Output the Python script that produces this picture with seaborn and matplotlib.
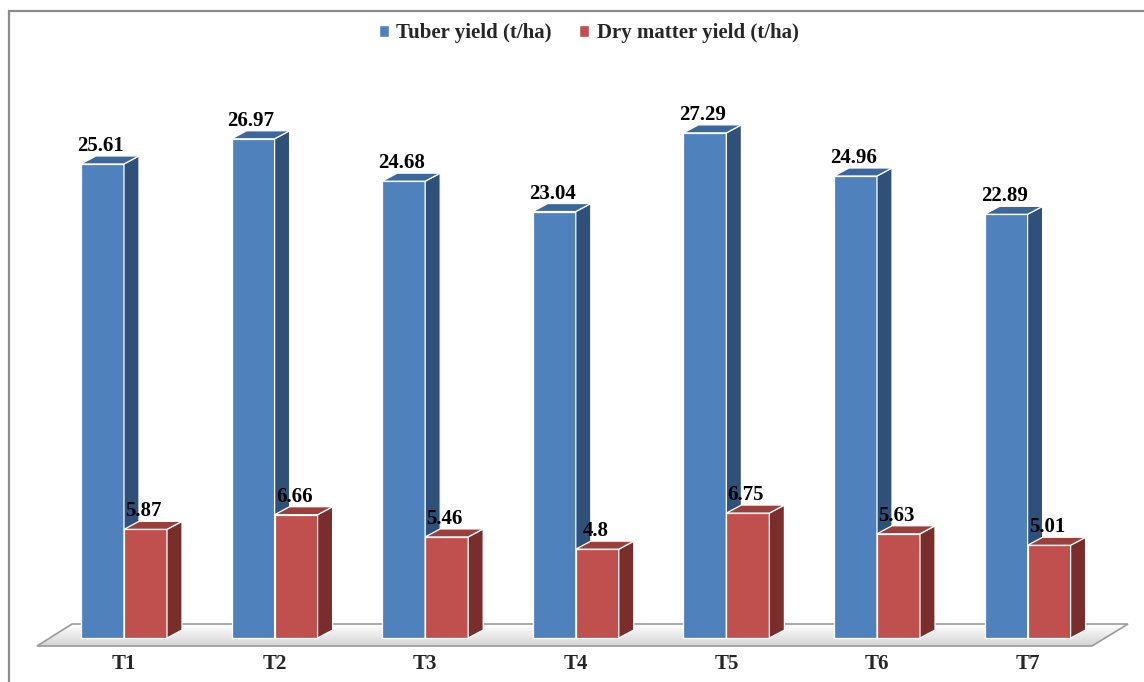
import numpy as np
import pandas as pd
import matplotlib
matplotlib.use("Agg")
import matplotlib.pyplot as plt
from matplotlib.patches import Polygon, Rectangle
import seaborn as sns

# ---- data ----
treatments = ["T1", "T2", "T3", "T4", "T5", "T6", "T7"]
tuber_yield = [25.61, 26.97, 24.68, 23.04, 27.29, 24.96, 22.89]
dry_matter_yield = [5.87, 6.66, 5.46, 4.8, 6.75, 5.63, 5.01]
series_names = ["Tuber yield (t/ha)", "Dry matter yield (t/ha)"]

df = pd.DataFrame({
    "Treatment": treatments * 2,
    "Yield": tuber_yield + dry_matter_yield,
    "Series": [series_names[0]] * len(treatments) + [series_names[1]] * len(treatments),
})

# ---- style ----
sns.set_theme(style="white")
plt.rcParams["font.family"] = ["Liberation Serif", "DejaVu Serif"]
plt.rcParams["font.weight"] = "bold"

FRONT = {"blue": "#4F81BD", "red": "#C0504D"}
SIDE = {"blue": "#2F5078", "red": "#7A2E2C"}
TOP = {"blue": "#3C679B", "red": "#9A3F3C"}
FS = 15

W, H = 1144, 682
fig = plt.figure(figsize=(W / 100, H / 100), dpi=100)

# axes placement in pixels
ax_l, ax_r, ax_t, ax_b = 30, 1135, 60, 648
ax = fig.add_axes([ax_l / W, 1 - ax_b / H, (ax_r - ax_l) / W, (ax_b - ax_t) / H])

px_per_x = 150.6
px_per_y = 18.51
x0_px = 124       # pixel of first category centre
y0_px = 638       # pixel of zero baseline
xlim = (-(x0_px - ax_l) / px_per_x, (ax_r - x0_px) / px_per_x)
ylim = (-(ax_b - y0_px) / px_per_y, (y0_px - ax_t) / px_per_y)


def to_data(px, py):
    return xlim[0] + (px - ax_l) / px_per_x, (y0_px - py) / px_per_y


sns.barplot(
    data=df, x="Treatment", y="Yield", hue="Series",
    palette=[FRONT["blue"], FRONT["red"]], width=0.571, saturation=1,
    edgecolor="white", linewidth=0.9, ax=ax, legend=False, errorbar=None,
)
bars = [b for b in ax.patches if isinstance(b, Rectangle)]

# depth offsets of the extruded bars
ddx = 15 / px_per_x
ddy = 8 / px_per_y

# floor slab
floor_px = [(37, 646), (1092, 646), (1128, 624), (72, 624)]
floor_pts = [to_data(*p) for p in floor_px]
fx = [p[0] for p in floor_pts]
fy = [p[1] for p in floor_pts]
grad = np.linspace(0, 1, 64).reshape(-1, 1)
img = ax.imshow(grad, cmap=matplotlib.colors.LinearSegmentedColormap.from_list(
    "floor", ["#ffffff", "#d4d4d4"]), extent=(min(fx), max(fx), min(fy), max(fy)),
    origin="upper", aspect="auto", zorder=1, interpolation="bilinear")
img.set_clip_path(Polygon(floor_pts, closed=True, transform=ax.transData))
ax.add_patch(Polygon(floor_pts, closed=True, facecolor="none", edgecolor="#9a9a9a",
                     linewidth=1.2, zorder=1.5, clip_on=False))

# 3D faces and value labels
for i, bar in enumerate(bars):
    key = "blue" if i < len(treatments) else "red"
    z = 2 if key == "blue" else 3
    bar.set_zorder(z)
    x, w, h = bar.get_x(), bar.get_width(), bar.get_height()
    side = Polygon([(x + w, 0), (x + w + ddx, ddy), (x + w + ddx, h + ddy), (x + w, h)],
                   closed=True, facecolor=SIDE[key], edgecolor="white", linewidth=0.9, zorder=z)
    top = Polygon([(x, h), (x + w, h), (x + w + ddx, h + ddy), (x + ddx, h + ddy)],
                  closed=True, facecolor=TOP[key], edgecolor="white", linewidth=0.9, zorder=z)
    ax.add_patch(side)
    ax.add_patch(top)
    ax.text(x + w / 2 - 2 / px_per_x, h + ddy, f"{h:g}", ha="center", va="bottom",
            fontsize=FS, fontweight="bold", color="black", zorder=5)

ax.set_xlim(*xlim)
ax.set_ylim(*ylim)
ax.set_xlabel("")
ax.set_ylabel("")
ax.set_yticks([])
ax.tick_params(axis="x", length=0, pad=4, labelsize=FS)
for lbl in ax.get_xticklabels():
    lbl.set_fontweight("bold")
for s in ax.spines.values():
    s.set_visible(False)
ax.patch.set_alpha(0)

# legend
handles = [Rectangle((0, 0), 1, 1, facecolor=FRONT["blue"]),
           Rectangle((0, 0), 1, 1, facecolor=FRONT["red"])]
fig.legend(handles, series_names, loc="center", bbox_to_anchor=(0.5144, 1 - 33 / H),
           ncol=2, frameon=False, handlelength=0.5, handleheight=0.5,
           handletextpad=0.35, columnspacing=1.3,
           prop={"family": "Liberation Serif", "weight": "bold", "size": FS})

# figure frame
fig.patches.append(Rectangle((8.5 / W, -0.1), 1.2, 1.1 - 10.5 / H, transform=fig.transFigure,
                             fill=False, edgecolor="#8c8c8c", linewidth=1.6))

fig.savefig("out.png", dpi=100)
